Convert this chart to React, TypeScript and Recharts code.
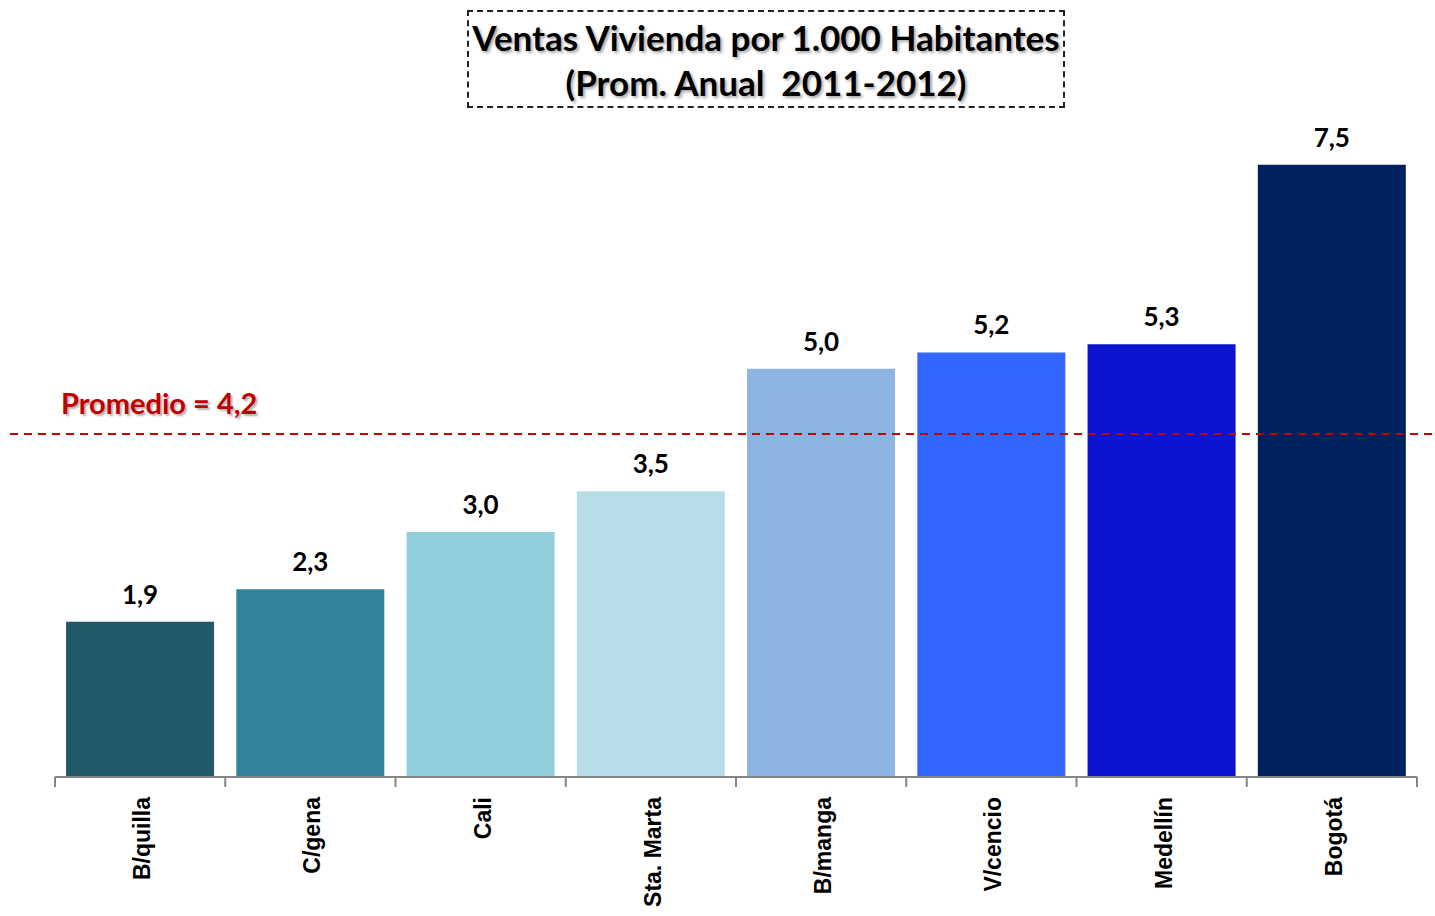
import {
  BarChart,
  Bar,
  XAxis,
  YAxis,
  Cell,
  LabelList,
  ReferenceLine,
} from "recharts";

const CITIES = [
  "B/quilla",
  "C/gena",
  "Cali",
  "Sta. Marta",
  "B/manga",
  "V/cencio",
  "Medellín",
  "Bogotá",
];
const VENTAS = [1.9, 2.3, 3.0, 3.5, 5.0, 5.2, 5.3, 7.5];
const PROMEDIO = 4.2;
const BAR_COLORS = [
  "#215968",
  "#31849B",
  "#92CDDC",
  "#B7DEE8",
  "#8DB4E2",
  "#3366FF",
  "#0C14D0",
  "#002060",
];

const data = CITIES.map((city, i) => ({ city, value: VENTAS[i] }));

const W = 1435;
const H = 916;
const LABEL_FONT = "Lato, 'Open Sans', sans-serif";

const fmt = (v: number) => v.toFixed(1).replace(".", ",");

// tick marks sit on the category boundaries, label is rotated below
function CityTick(props: any) {
  const { x, y, payload, index } = props;
  const half = payload?.offset ?? 85;
  const last = index === CITIES.length - 1;
  return (
    <g>
      <line x1={x - half} x2={x - half} y1={y - 8} y2={y + 2} stroke="#868686" strokeWidth={2} />
      {last && (
        <line x1={x + half} x2={x + half} y1={y - 8} y2={y + 2} stroke="#868686" strokeWidth={2} />
      )}
      <text
        transform={`translate(${x + 2}, ${y + 12}) rotate(-90)`}
        textAnchor="end"
        dy="0.35em"
        fontFamily="'Liberation Sans', Arial, sans-serif"
        fontWeight="bold"
        fontSize={23}
        fill="#000"
      >
        {payload.value}
      </text>
    </g>
  );
}

function PromedioLine(props: any) {
  const y = props.y1 ?? props.y;
  return (
    <g>
      <line x1={10} x2={W} y1={y} y2={y} stroke="#C00000" strokeWidth={2} strokeDasharray="8 6" />
      <text
        x={61}
        y={y - 30}
        dy="0.35em"
        fontFamily={LABEL_FONT}
        fontWeight="bold"
        fontSize={29}
        fill="#C00000"
        style={{ textShadow: "2px 2px 2px rgba(0,0,0,0.3)" }}
      >
        {`Promedio = ${fmt(PROMEDIO)}`}
      </text>
    </g>
  );
}

export default function App() {
  return (
    <div style={{ position: "absolute", left: 0, top: 0, width: W, height: H, background: "#fff" }}>
      <BarChart
        width={W}
        height={H}
        data={data}
        margin={{ top: 83, right: 18, bottom: 0, left: 55 }}
        barCategoryGap="6.5%"
      >
        <YAxis hide domain={[0, 8.5]} />
        <XAxis
          dataKey="city"
          axisLine={{ stroke: "#868686", strokeWidth: 2 }}
          tickLine={false}
          tick={<CityTick />}
          interval={0}
          height={139}
        />
        <Bar dataKey="value" isAnimationActive={false}>
          {data.map((d, i) => (
            <Cell key={d.city} fill={BAR_COLORS[i]} />
          ))}
          <LabelList
            dataKey="value"
            position="top"
            offset={18}
            formatter={(v: any) => fmt(Number(v))}
            style={{ fontFamily: LABEL_FONT, fontWeight: "bold", fontSize: 26, fill: "#000" }}
          />
        </Bar>
        <ReferenceLine y={PROMEDIO} shape={<PromedioLine />} ifOverflow="visible" />
      </BarChart>
      <div
        style={{
          position: "absolute",
          left: 467,
          top: 10,
          width: 598,
          height: 98,
          boxSizing: "border-box",
          border: "2px dashed #222",
          fontFamily: LABEL_FONT,
          fontWeight: "bold",
          fontSize: 35,
          lineHeight: "45px",
          textAlign: "center",
          paddingTop: 3,
          whiteSpace: "nowrap",
          textShadow: "2px 2px 3px rgba(0,0,0,0.35)",
          color: "#000",
        }}
      >
        Ventas Vivienda por 1.000 Habitantes
        <br />
        (Prom. Anual&nbsp; 2011-2012)
      </div>
    </div>
  );
}
